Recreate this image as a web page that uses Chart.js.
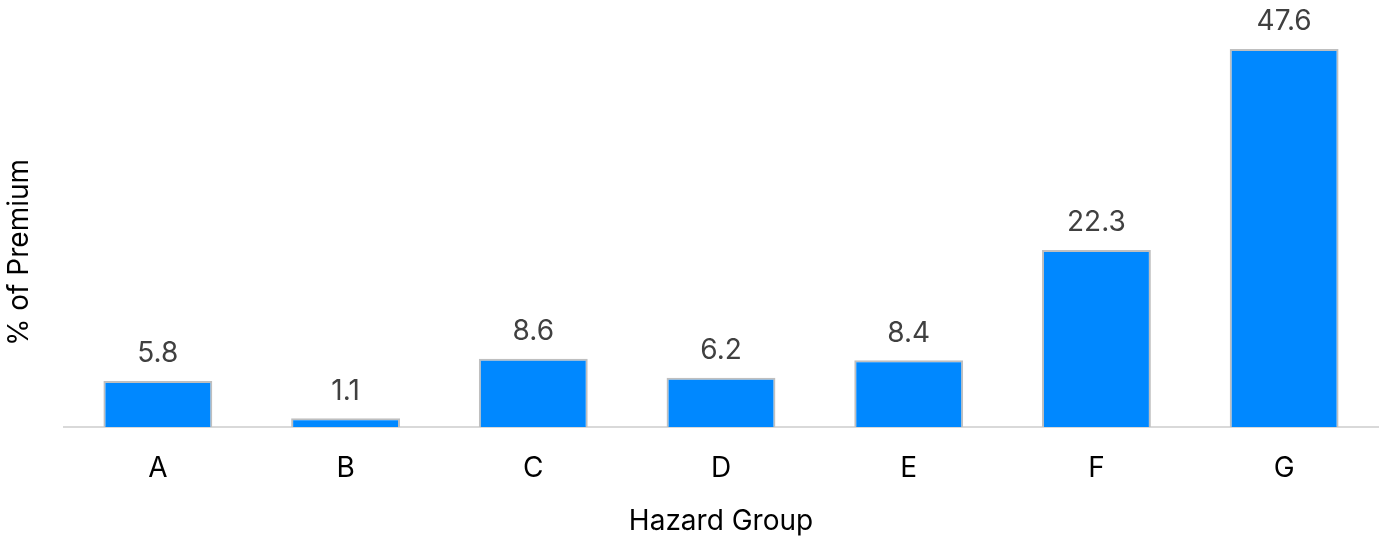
<!DOCTYPE html>
<html>
<head>
<meta charset="utf-8">
<script src="https://cdn.jsdelivr.net/npm/chart.js@4/dist/chart.umd.min.js"></script>
<style>
  html, body { margin: 0; padding: 0; background: #fff; }
  #wrap { width: 1383px; height: 538px; }
</style>
</head>
<body>
<div id="wrap"><canvas id="hazard-chart"></canvas></div>
<script>
// Data
const categories = ["A", "B", "C", "D", "E", "F", "G"];
const premiumShare = [5.8, 1.1, 8.6, 6.2, 8.4, 22.3, 47.6];
const yTitle = "% of Premium";
const xTitle = "Hazard Group";

const FONT = "Inter, 'Liberation Sans', sans-serif";
const FONT_SIZE = 28;

// value labels above each bar + the rotated y axis title
const barLabels = {
    id: "barLabels",
    afterDatasetsDraw(chart) {
        const ctx = chart.ctx;
        const meta = chart.getDatasetMeta(0);
        const area = chart.chartArea;
        ctx.save();
        ctx.font = FONT_SIZE + "px " + FONT;
        ctx.fillStyle = "#404040";
        ctx.textAlign = "center";
        ctx.textBaseline = "middle";
        meta.data.forEach((bar, i) => {
            ctx.fillText(premiumShare[i].toFixed(1), bar.x, bar.y - 27);
        });

        // y title sits a bit below the middle of the plot, like the original
        ctx.fillStyle = "#000";
        ctx.translate(20, (area.top + area.bottom) / 2 + 24);
        ctx.rotate(-Math.PI / 2);
        ctx.fillText(yTitle, 0, 0);
        ctx.restore();
    }
};

const ctx = document.getElementById("hazard-chart").getContext("2d");
new Chart(ctx, {
    type: "bar",
    data: {
        labels: categories,
        datasets: [{
            data: premiumShare,
            backgroundColor: "#0088ff",
            borderColor: "#bfbfbf",
            borderWidth: 2,
            categoryPercentage: 1,
            barPercentage: 0.58
        }]
    },
    options: {
        responsive: true,
        maintainAspectRatio: false,
        animation: false,
        layout: { padding: { top: 30, right: 5, left: 0, bottom: 0 } },
        plugins: {
            legend: { display: false },
            tooltip: { enabled: false }
        },
        scales: {
            x: {
                grid: { display: false, drawTicks: false },
                border: { display: true, color: "#d9d9d9", width: 2 },
                ticks: { color: "#000", font: { family: FONT, size: FONT_SIZE }, padding: 25 },
                title: {
                    display: true,
                    text: xTitle,
                    color: "#000",
                    font: { family: FONT, size: FONT_SIZE },
                    padding: { top: 0, bottom: 0 }
                },
                afterFit(scale) { scale.height = 111; }
            },
            y: {
                min: 0,
                max: 50,
                grid: { display: false, drawTicks: false },
                border: { display: false },
                ticks: { display: false },
                afterFit(scale) { scale.width = 64; }
            }
        }
    },
    plugins: [barLabels]
});
</script>
</body>
</html>
